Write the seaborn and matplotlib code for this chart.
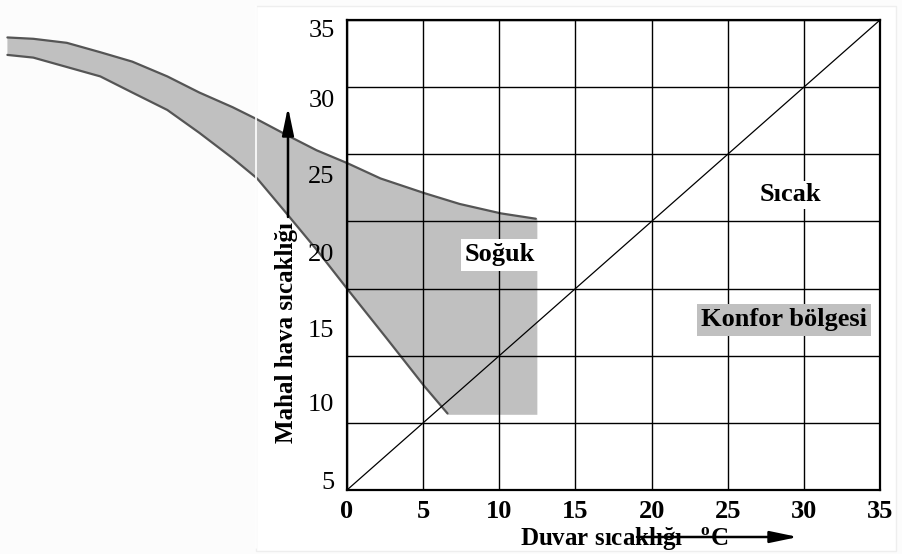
import numpy as np
import matplotlib
matplotlib.use('Agg')
import matplotlib.pyplot as plt
from matplotlib.patches import Rectangle
from matplotlib.lines import Line2D
import seaborn as sns

# Eksen degerleri
x_ticks = [0, 5, 10, 15, 20, 25, 30, 35]
grid_y = [0, 5, 10, 15, 20, 25, 30, 35]
y_labels = ['5', '10', '15', '20', '25', '30', '35']
y_label_pos = [0.74, 6.48, 12.06, 17.72, 23.46, 29.19, 34.40]

# Konfor bandi (ust ve alt egri)
upper_x = [-22.3, -20.6, -18.4, -16.2, -14.1, -11.8, -9.7, -7.5, -5.9, -3.9, -2.0,
           0.0, 2.2, 5.1, 7.4, 10.1, 12.4]
upper_y = [33.7, 33.6, 33.3, 32.6, 31.9, 30.8, 29.6, 28.5, 27.6, 26.4, 25.3,
           24.35, 23.2, 22.1, 21.3, 20.6, 20.2]
lower_x = [-22.3, -20.6, -18.4, -16.2, -14.1, -11.8, -9.7, -7.5, -5.9, -3.9, -2.0,
           0.0, 2.6, 5.1, 6.6]
lower_y = [32.4, 32.2, 31.5, 30.8, 29.6, 28.3, 26.6, 24.7, 23.2, 20.5, 17.9,
           15.0, 11.3, 7.7, 5.7]
band_right = 12.5
band_bottom = 5.6

# Esit sicaklik cizgisi
diag_x = [0, 35]
diag_y = [0, 35]

sns.set_style('white')
plt.rcParams['font.family'] = ['Liberation Serif', 'DejaVu Serif']
plt.rcParams['mathtext.fontset'] = 'custom'
plt.rcParams['mathtext.rm'] = 'Liberation Serif'
plt.rcParams['mathtext.bf'] = 'Liberation Serif:bold'
for key in ['text.color', 'axes.labelcolor', 'xtick.color', 'ytick.color']:
    plt.rcParams[key] = 'black'

fig = plt.figure(figsize=(9.02, 5.54), dpi=100, facecolor='#fcfcfc')
fig.patches.append(Rectangle((256 / 902, 3 / 554), 640 / 902, 545 / 554,
                             transform=fig.transFigure, facecolor='white',
                             edgecolor='#eeeeee', lw=1, zorder=-5))
ax = fig.add_axes([347 / 902, 64 / 554, 533 / 902, 470 / 554])
ax.set_facecolor('none')

# Gri bolge
poly_x = upper_x + [band_right, band_right, lower_x[-1]] + lower_x[::-1]
poly_y = upper_y + [upper_y[-1], band_bottom, band_bottom] + lower_y[::-1]
ax.fill(poly_x, poly_y, color='#c0c0c0', lw=0, zorder=1, clip_on=False)

sns.lineplot(x=upper_x, y=upper_y, sort=False, color='#555555', lw=1.6, ax=ax, zorder=2)
ax.lines[-1].set_clip_on(False)
sns.lineplot(x=lower_x, y=lower_y, sort=False, color='#555555', lw=1.6, ax=ax, zorder=2)
ax.lines[-1].set_clip_on(False)
sns.lineplot(x=diag_x, y=diag_y, color='black', lw=0.9, ax=ax, zorder=2.6)

# sayfa kenari (taramadaki beyaz cizgi)
fig.lines.append(Line2D([256 / 902, 256 / 902], [6 / 554, 548 / 554],
                        transform=fig.transFigure, color='white', lw=1.2, zorder=5))

ax.set_xlim(0, 35)
ax.set_ylim(0, 35)
ax.set_xticks(x_ticks)
ax.set_xticklabels([str(v) for v in x_ticks], fontweight='bold')
ax.set_yticks(grid_y)
ax.set_yticklabels([])
ax.set_yticks(y_label_pos, labels=y_labels, minor=True)
ax.tick_params(which='both', length=0)
ax.tick_params(axis='x', labelsize=19, pad=7)
ax.tick_params(axis='y', which='minor', labelsize=19, pad=9)
ax.set_axisbelow(False)
ax.grid(True, which='major', color='black', lw=1.0)
for sp in ax.spines.values():
    sp.set_visible(True)
    sp.set_color('black')
    sp.set_linewidth(1.6)

# Etiketler
ax.set_xlabel('Duvar sıcaklığı   $^{\\mathbf{o}}$C', fontsize=18, fontweight='bold')
ax.xaxis.set_label_coords(0.52, -0.106)
ax.xaxis.label.set_va('center')
ax.set_ylabel('Mahal hava sıcaklığı', fontsize=18, fontweight='bold')
ax.yaxis.set_label_coords(-0.1126, 0.336)
ax.yaxis.label.set_va('center')

ax.text(10.05, 17.5, 'Soğuk', fontsize=19, fontweight='bold', ha='center', va='center',
        zorder=3, bbox=dict(facecolor='white', edgecolor='none', pad=3))
ax.text(29.1, 21.97, 'Sıcak', fontsize=19, fontweight='bold', ha='center', va='center',
        zorder=3, bbox=dict(facecolor='white', edgecolor='none', pad=2))
ax.text(28.7, 12.66, 'Konfor bölgesi', fontsize=19, fontweight='bold', ha='center', va='center',
        zorder=3, bbox=dict(facecolor='#c0c0c0', edgecolor='none', pad=3))

# Oklar
arrow = dict(arrowstyle='-|>,head_length=1.2,head_width=0.25', color='black', lw=1.8,
             mutation_scale=14, shrinkA=0, shrinkB=0)
ax.annotate('', xy=(288 / 902, 1 - 107 / 554), xytext=(288 / 902, 1 - 217 / 554),
            xycoords='figure fraction', textcoords='figure fraction', arrowprops=arrow)
ax.annotate('', xy=(798 / 902, 1 - 537 / 554), xytext=(637 / 902, 1 - 537 / 554),
            xycoords='figure fraction', textcoords='figure fraction', arrowprops=arrow)

fig.savefig('out.png', dpi=100, facecolor=fig.get_facecolor())
